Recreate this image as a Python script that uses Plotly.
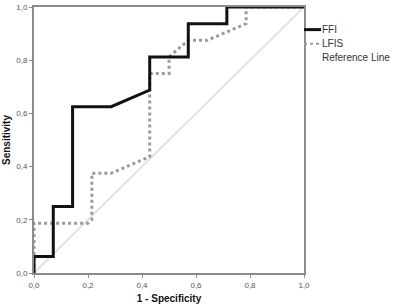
import plotly.graph_objects as go

# FFI ROC curve
ffi_x = [0.0, 0.0, 0.0714, 0.0714, 0.1429, 0.1429, 0.2857, 0.4286, 0.4286, 0.5714, 0.5714, 0.7143, 0.7143, 1.0]
ffi_y = [0.0, 0.0625, 0.0625, 0.25, 0.25, 0.625, 0.625, 0.6875, 0.8125, 0.8125, 0.9375, 0.9375, 1.0, 1.0]

# LFIS ROC curve
lfis_x = [0.0, 0.0, 0.2, 0.2143, 0.2143, 0.2857, 0.4286, 0.4286, 0.5, 0.5, 0.5714, 0.6429, 0.7857, 0.7857, 1.0]
lfis_y = [0.0, 0.1875, 0.1875, 0.2, 0.375, 0.375, 0.4375, 0.75, 0.75, 0.8125, 0.875, 0.875, 0.9375, 1.0, 1.0]

# Reference line
ref_x = [0.0, 1.0]
ref_y = [0.0, 1.0]

tick_vals = [0.0, 0.2, 0.4, 0.6, 0.8, 1.0]
tick_text = ["0,0", "0,2", "0,4", "0,6", "0,8", "1,0"]

legend_names = ["FFI", "LFIS", "Reference Line"]

fig = go.Figure()
fig.add_trace(go.Scatter(x=ref_x, y=ref_y, mode="lines", name=legend_names[2],
                         line=dict(color="#e3e3e3", width=2), showlegend=False))
fig.add_trace(go.Scatter(x=lfis_x, y=lfis_y, mode="lines", name=legend_names[1],
                         line=dict(color="#9a9a9a", width=3, dash="dot"), showlegend=False))
fig.add_trace(go.Scatter(x=ffi_x, y=ffi_y, mode="lines", name=legend_names[0],
                         line=dict(color="#111111", width=3), showlegend=False))

axis_common = dict(
    range=[0, 1], tickvals=tick_vals, ticktext=tick_text, automargin=False,
    showgrid=False, zeroline=False, showline=True, linecolor="#8c8c8c", linewidth=2,
    mirror=True, ticks="outside", ticklen=3, tickcolor="#8c8c8c", tickwidth=1,
    ticklabeloverflow="allow",
    tickfont=dict(family="Liberation Sans, Arial", size=8, color="#555555"),
)

fig.update_layout(
    width=395, height=307,
    margin=dict(l=34, r=91, t=7, b=34),
    paper_bgcolor="white", plot_bgcolor="white",
    xaxis=dict(**axis_common, title=dict(text="<b>1 - Specificity</b>", standoff=6,
               font=dict(family="Liberation Sans, Arial", size=10, color="#111111"))),
    yaxis=dict(**axis_common, title=dict(text="<b>Sensitivity</b>", standoff=4,
               font=dict(family="Liberation Sans, Arial", size=10, color="#111111"))),
    showlegend=False,
    hovermode=False,
)

# legend drawn as annotations + short symbol lines
leg_font = dict(family="Liberation Sans, Arial", size=10, color="#333333")
leg_y = [0.915, 0.862, 0.810]
for name, yy in zip(legend_names, leg_y):
    fig.add_annotation(text=name, xref="paper", yref="paper", x=1.061, y=yy,
                       xanchor="left", yanchor="middle", showarrow=False, font=leg_font)
fig.add_shape(type="line", xref="paper", yref="paper", x0=1.0, x1=1.063, y0=leg_y[0], y1=leg_y[0],
              line=dict(color="#111111", width=3))
fig.add_shape(type="line", xref="paper", yref="paper", x0=1.0, x1=1.063, y0=leg_y[1], y1=leg_y[1],
              line=dict(color="#9a9a9a", width=2, dash="dot"))

fig.write_html("out.html", config={"displayModeBar": False},
               post_script="document.body.style.margin='0';")
